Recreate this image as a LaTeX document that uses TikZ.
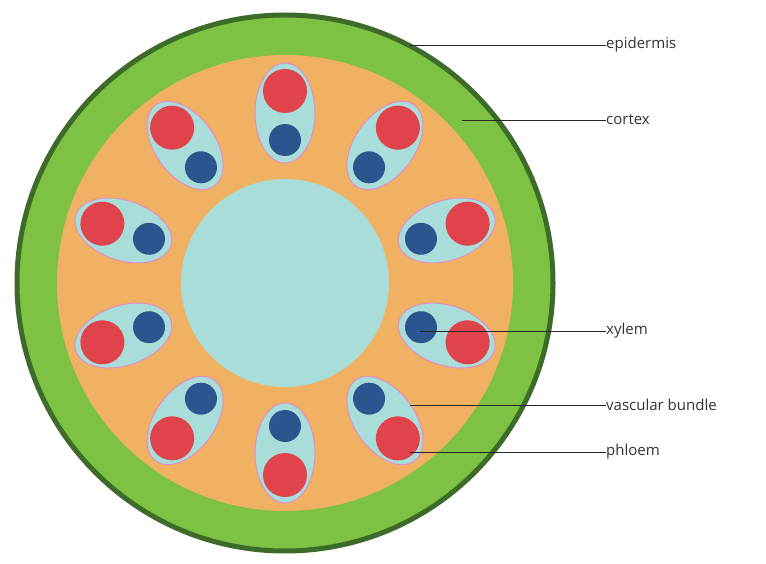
\documentclass[tikz,border=0pt]{standalone}
\usepackage{fontspec}
\setmainfont{Open Sans}
\definecolor{dgreen}{HTML}{3D6B2A}
\definecolor{lgreen}{HTML}{7DC242}
\definecolor{cort}{HTML}{F0B262}
\definecolor{pith}{HTML}{A8DDD9}
\definecolor{phl}{HTML}{E0434C}
\definecolor{xyl}{HTML}{2B558F}
\definecolor{rim}{HTML}{E48CC8}
\begin{document}
\begin{tikzpicture}[x=1pt,y=-1pt,
  lab/.style={anchor=west,inner sep=0pt,font=\fontsize{15}{18}\selectfont,text=black!80},
  ln/.style={draw=black!85,line width=0.8pt}]
\useasboundingbox (0,0) rectangle (766,564);
\fill[lgreen,draw=dgreen,line width=5pt] (285,283) circle (268);
\fill[cort] (285,283) circle (228);
\fill[pith] (285,283) circle (104);
\foreach \a in {90,54,18,-18,-54,-90,-126,-162,162,126}{
  \begin{scope}[shift={(285,283)},rotate=-\a]
    \fill[pith,draw=rim,line width=1pt] (170,0) ellipse (50 and 30);
    \fill[phl] (192,0) circle (22);
    \fill[xyl] (143,0) circle (16);
  \end{scope}}
\coordinate (pe) at (410,45);
\coordinate (pc) at (462,120);
\coordinate (px) at (420,331);
\coordinate (pv) at (410,405);
\coordinate (pp) at (410,452);
\node[lab] (te) at (606,45) {epidermis};
\node[lab] (tc) at (606,120) {cortex};
\node[lab] (tx) at (606,331) {xylem};
\node[lab] (tv) at (606,405) {vascular bundle};
\node[lab] (tp) at (606,452) {phloem};
\draw[ln] (pe) -- (te.west);
\draw[ln] (pc) -- (tc.west);
\draw[ln] (px) -- (tx.west);
\draw[ln] (pv) -- (tv.west);
\draw[ln] (pp) -- (tp.west);
\end{tikzpicture}
\end{document}
